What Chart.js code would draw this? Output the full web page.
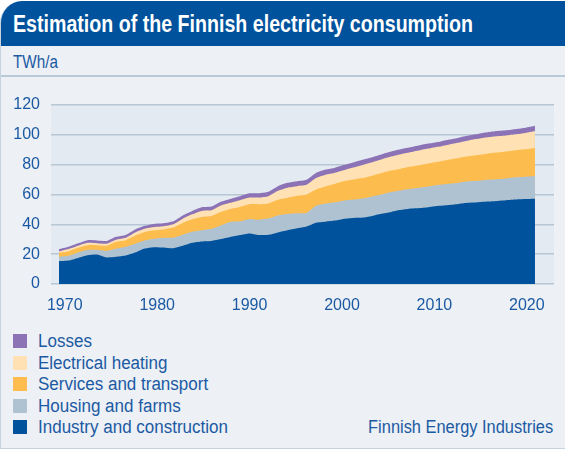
<!DOCTYPE html>
<html>
<head>
<meta charset="utf-8">
<script src="https://cdn.jsdelivr.net/npm/chart.js@4"></script>
<style>
  body { margin: 0; background: #fff; }
  #frame {
    position: relative; width: 564px; height: 447px; margin-top: 1px;
    background: #edf0f5; border-left: 1.5px solid #c6d2dd; border-bottom: 1.5px solid #c6d2dd;
    border-top-left-radius: 22px; overflow: hidden;
    font-family: "Liberation Sans", Arial, sans-serif; color: #1b5aa3;
  }
  #title {
    position: absolute; left: 0; top: 0; width: 100%; height: 45px; background: #00529c;
    color: #fff; font-weight: bold; font-size: 23px; line-height: 47px; padding-left: 12px; box-sizing: border-box;
    white-space: nowrap;
  }
  #unit {
    position: absolute; left: 0; top: 45px; width: 100%; height: 31px; border-bottom: 2px solid #b9c9d5;
    font-size: 18px; line-height: 33px; padding-left: 12px; box-sizing: border-box;
  }
  #wrap { position: absolute; left: 0; top: 78px; width: 564px; height: 232px; }
  #legend { position: absolute; left: 12px; top: 330px; font-size: 18px; }
  .row { height: 21.5px; line-height: 21.5px; white-space: nowrap; }
  .sw { display: inline-block; width: 14px; height: 14px; vertical-align: -1px; margin-right: 11px; }
  .fit { display: inline-block; transform-origin: left center; white-space: nowrap; }
  #source { position: absolute; right: 12px; top: 416px; font-size: 18px; line-height: 21.5px; }
  #source .fit { transform-origin: right center; }
</style>
</head>
<body>
<div id="frame">
  <div id="title"><span class="fit" id="titleText">Estimation of the Finnish electricity consumption</span></div>
  <div id="unit"><span class="fit" id="unitText">TWh/a</span></div>
  <div id="wrap"><canvas id="chart"></canvas></div>
  <div id="legend"></div>
  <div id="source"><span class="fit" id="sourceText">Finnish Energy Industries</span></div>
</div>
<script>
// years 1970 - 2020, TWh per year for each use
const years = [];
for (let y = 1970; y <= 2020; y++) years.push(y);

const industry = [15.3,15.7,17.5,19.3,19.8,17.8,18.2,19.1,21.1,23.8,
	24.7,24.5,24.0,25.6,27.6,28.5,28.8,30.1,31.5,32.8,
	33.9,32.8,33.0,34.6,36.0,37.3,38.5,41.1,41.8,42.5,
	43.8,44.3,44.5,45.8,47.2,48.5,49.7,50.6,51.0,51.7,
	52.4,53.0,53.7,54.4,54.8,55.3,55.7,56.2,56.6,56.9,
	57.1];
const housing = [2.9,3.2,3.6,3.6,3.1,4.4,5.4,5.8,5.9,5.4,
	5.6,6.5,7.0,7.4,7.4,7.5,8.2,9.2,10.1,9.2,
	9.7,10.3,11.0,11.4,10.9,10.1,9.1,11.3,12.1,12.3,
	12.2,12.3,13.0,13.1,13.0,13.3,13.2,13.2,13.7,13.9,
	14.1,14.2,14.2,14.4,14.4,14.6,14.6,14.6,14.9,15.0,
	15.3];
const services = [2.7,3.1,3.2,3.1,3.1,3.4,4.7,4.5,5.4,5.6,
	5.7,5.6,6.8,7.9,8.4,9.0,8.6,9.0,8.7,9.7,
	9.9,10.4,10.0,10.4,10.9,11.7,12.4,11.0,11.5,12.4,
	13.0,13.5,13.7,13.9,14.4,14.4,14.6,14.9,15.1,15.5,
	15.7,16.2,16.6,16.8,17.3,17.5,17.8,18.0,18.2,18.4,
	18.8];
const heating = [0.9,1.4,1.3,1.6,1.4,1.4,1.4,1.6,2.2,2.2,
	2.2,2.1,2.2,2.9,3.3,4.0,3.8,4.3,4.1,4.5,
	4.5,4.5,4.9,6.1,6.8,6.5,6.5,7.6,7.9,7.4,
	7.4,8.1,8.8,9.0,9.2,9.4,9.7,9.8,10.1,9.9,
	9.9,10.1,10.3,10.6,10.8,11.0,11.0,10.8,10.7,11.0,
	11.3];
const losses = [1.6,1.6,1.7,1.8,1.8,1.8,1.9,1.9,2.0,2.0,
	2.1,2.0,2.0,2.2,2.3,2.4,2.5,2.5,2.6,2.6,
	2.8,2.9,3.0,3.1,3.2,3.3,3.4,3.4,3.4,3.4,
	3.5,3.5,3.5,3.4,3.4,3.4,3.3,3.3,3.3,3.3,
	3.3,3.3,3.3,3.3,3.3,3.3,3.4,3.4,3.5,3.5,
	3.6];

const yearTicks = [1970, 1980, 1990, 2000, 2010, 2020];
const valueTicks = [0, 20, 40, 60, 80, 100, 120];

const series = [
	{ label: "Industry and construction", data: industry, color: "#00529c" },
	{ label: "Housing and farms", data: housing, color: "#afc2d2" },
	{ label: "Services and transport", data: services, color: "#fdbd4e" },
	{ label: "Electrical heating", data: heating, color: "#ffe1b3" },
	{ label: "Losses", data: losses, color: "#8c73b6" }
];

// legend, top entry first
let legend = document.getElementById("legend");
for (let i = series.length - 1; i >= 0; i--) {
	legend.innerHTML += '<div class="row"><span class="sw" style="background:' + series[i].color + '"></span><span class="fit lg">' + series[i].label + '</span></div>';
}

// the original uses a condensed face, so squeeze the text to its widths
function squeeze(el, target) {
	let k = target / el.getBoundingClientRect().width;
	el.style.transform = "scaleX(" + k + ")";
	return k;
}
squeeze(document.getElementById("titleText"), 460);
squeeze(document.getElementById("unitText"), 45);
squeeze(document.getElementById("sourceText"), 185);
let lg = document.querySelectorAll(".lg");
let k = squeeze(lg[0].parentNode.parentNode.lastChild.lastChild, 190);
lg.forEach(el => { el.style.transform = "scaleX(" + k + ")"; });

const plotBg = {
	id: "plotBg",
	beforeDraw(chart) {
		let a = chart.chartArea;
		chart.ctx.save();
		chart.ctx.fillStyle = "#e3eaf1";
		chart.ctx.fillRect(a.left, a.top, a.right - a.left, a.bottom - a.top);
		chart.ctx.restore();
	}
};

let font = { family: "'Liberation Sans', Arial, sans-serif", size: 16 };

let graph = new Chart("chart", {
	type: "line",
	data: {
		datasets: series.map(s => ({
			label: s.label,
			data: years.map((y, i) => ({ x: y, y: s.data[i] })),
			backgroundColor: s.color,
			borderWidth: 0,
			pointRadius: 0,
			tension: 0.2,
			fill: "origin"
		}))
	},
	options: {
		responsive: true,
		maintainAspectRatio: false,
		animation: false,
		layout: { padding: { left: 0, right: 11, top: 26, bottom: 0 } },
		plugins: { legend: { display: false }, tooltip: { enabled: false } },
		scales: {
			x: {
				type: "linear", min: 1969.16, max: 2022.0, display: false
			},
			years: {
				type: "linear", position: "bottom", min: 1968.51, max: 2022.94,
				afterBuildTicks: s => { s.ticks = yearTicks.map(v => ({ value: v })); },
				afterFit: s => { s.height = 27; },
				grid: { display: false },
				border: { display: false },
				ticks: { color: "#1b5aa3", font: font, padding: 4, maxRotation: 0, callback: v => String(v) }
			},
			y: {
				stacked: true, min: 0, max: 120,
				afterBuildTicks: s => { s.ticks = valueTicks.map(v => ({ value: v })); },
				afterFit: s => { s.width = 50; },
				grid: { color: "#b6c6d4", lineWidth: 1.5, drawTicks: false },
				border: { display: false },
				ticks: { color: "#1b5aa3", font: font, padding: 11 }
			}
		}
	},
	plugins: [plotBg]
});
</script>
</body>
</html>
